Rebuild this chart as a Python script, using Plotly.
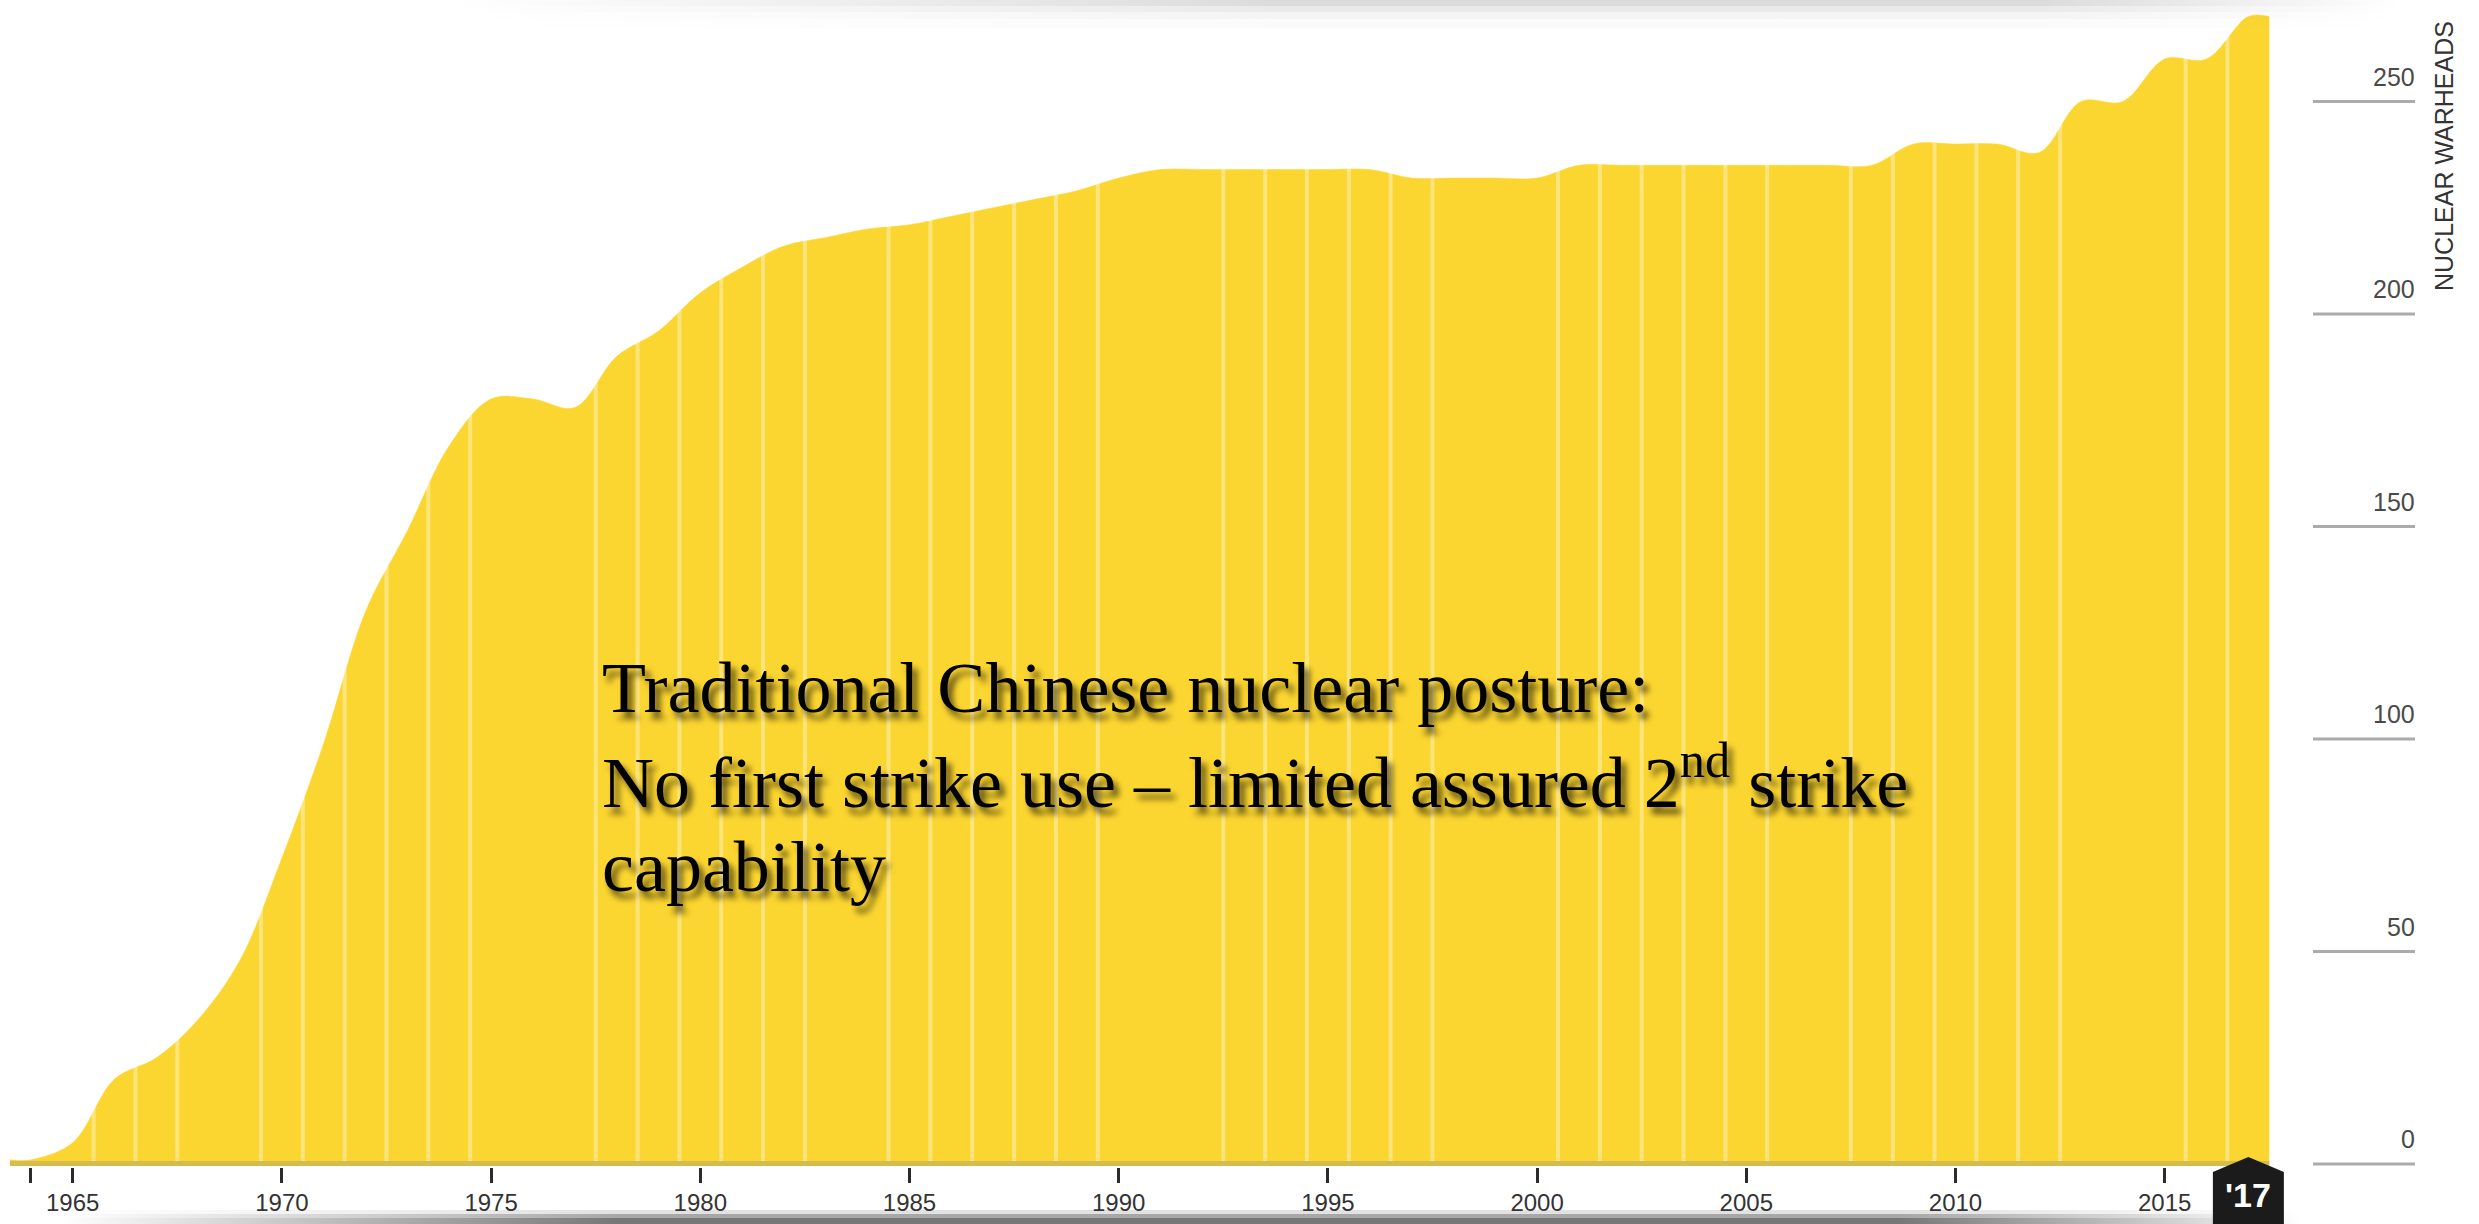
import plotly.graph_objects as go

# Estimated Chinese nuclear warhead stockpile, one value per year
years = list(range(1964, 2018))
warheads = [1, 5, 20, 25, 34, 48, 72, 99, 130, 149,
            169, 180, 180, 178, 190, 196, 205, 211, 216, 218,
            220, 221, 223, 225, 227, 229, 232, 234, 234, 234,
            234, 234, 234, 232, 232, 232, 232, 235, 235, 235,
            235, 235, 235, 235, 235, 240, 240, 240, 238, 250,
            250, 260, 260, 270]

# years whose right-hand boundary carries no divider stripe
no_divider_after = [1964, 1968, 1975, 1976, 1983, 1990, 1991,
                    1998, 1999, 2006, 2013, 2014]

tick_years = [1965, 1970, 1975, 1980, 1985, 1990, 1995,
              2000, 2005, 2010, 2015]
tick_labels = ["1965", "1970", "1975", "1980", "1985", "1990",
               "1995", "2000", "2005", "2010", "2015"]
unlabelled_tick_years = [1964]

scale_values = [0, 50, 100, 150, 200, 250]
scale_labels = ["0", "50", "100", "150", "200", "250"]

scale_title = "NUCLEAR WARHEADS"
current_year_label = "'17"
note_lines = [
    "Traditional Chinese nuclear posture:",
    "No first strike use \u2013 limited assured 2<sup>nd</sup> strike",
    "capability",
]

# ---- page geometry (pixels) ----
W, H = 2479, 1224
PX_PER_YEAR = 41.84
YEAR_AT_LEFT_EDGE = 1965 - 72.7 / PX_PER_YEAR
PLOT_RIGHT = 2271
ZERO_ROW = 1164          # pixel row of value 0
AXIS_ROW = 1166.5        # bottom edge of the plotting area
PX_PER_UNIT = 4.25

YELLOW = "#FCD630"
SANS = "Liberation Sans, Arial, Helvetica, sans-serif"
SERIF = "Liberation Serif, Times New Roman, serif"
TICK_STYLE = dict(ticks="outside", ticklen=15, tickwidth=2.5, tickcolor="#2b2b2b")


def year_at(px):
    return YEAR_AT_LEFT_EDGE + px / PX_PER_YEAR


def value_at(row):
    return (ZERO_ROW - row) / PX_PER_UNIT


fig = go.Figure()

# stockpile area, half a year of padding at either end
area_x = [years[0] - 0.5] + years + [years[-1] + 0.5]
area_y = [warheads[0]] + warheads + [warheads[-1]]
fig.add_trace(go.Scatter(
    x=area_x, y=area_y, mode="lines",
    line=dict(shape="spline", smoothing=1, width=0.5, color=YELLOW),
    fill="tozeroy", fillcolor=YELLOW,
    hoverinfo="skip", showlegend=False,
))

# light divider stripes between years
div_x, div_y = [], []
for i in range(len(years) - 1):
    if years[i] in no_divider_after:
        continue
    b = years[i] + 0.5
    div_x += [b, b, None]
    div_y += [0, max(warheads[i], warheads[i + 1]) + 3, None]
fig.add_trace(go.Scatter(
    x=div_x, y=div_y, mode="lines",
    line=dict(color="rgba(255,255,255,0.37)", width=4),
    hoverinfo="skip", showlegend=False,
))


# soft page shadows along the top and bottom edges
def shade_band(px0, px1, row0, row1, stops):
    x0, x1 = year_at(px0), year_at(px1)
    y0, y1 = value_at(row0), value_at(row1)
    return go.Scatter(
        x=[x0, x1, x1, x0, x0], y=[y0, y0, y1, y1, y0],
        xaxis="x2", yaxis="y2", mode="none", fill="toself",
        fillgradient=dict(type="horizontal", colorscale=stops),
        hoverinfo="skip", showlegend=False,
    )


def top_stops(a):
    c = "rgba(80,80,80,{})"
    return [[0, c.format(0)], [0.42, c.format(a)], [0.82, c.format(a)],
            [1, c.format(0)]]


def bottom_stops(a):
    c = "rgba(60,60,60,{})"
    return [[0, c.format(0)], [0.25, c.format(a)], [0.82, c.format(a)],
            [0.95, c.format(a * 0.3)], [1, c.format(0)]]


for r0, r1, a in [(0, 6, 0.20), (6, 12, 0.12), (12, 19, 0.06), (19, 28, 0.025)]:
    fig.add_trace(shade_band(450, 2400, r0, r1, top_stops(a)))
for r0, r1, a in [(1210, 1214, 0.15), (1214, 1218, 0.45), (1218, 1224, 0.7)]:
    fig.add_trace(shade_band(60, 2300, r0, r1, bottom_stops(a)))

# value scale stubs at the right
stub_x, stub_y = [], []
for v in scale_values:
    stub_x += [year_at(2313), year_at(2415), None]
    stub_y += [v, v, None]
fig.add_trace(go.Scatter(
    x=stub_x, y=stub_y, xaxis="x2", yaxis="y2", mode="lines",
    line=dict(color="#ababab", width=3),
    hoverinfo="skip", showlegend=False,
))

annotations = []
for v, lab in zip(scale_values, scale_labels):
    annotations.append(dict(
        x=year_at(2417), y=v, xref="x2", yref="y2",
        xanchor="right", yanchor="middle", yshift=25,
        text=lab, showarrow=False,
        font=dict(family=SANS, size=25, color="#4a4a4a"),
    ))

annotations.append(dict(
    x=2444 / W, y=1 - 156 / H, xref="paper", yref="paper",
    text=scale_title, textangle=-90, showarrow=False,
    xanchor="center", yanchor="middle",
    font=dict(family=SANS, size=25, color="#333333"),
))

annotations.append(dict(
    x=years[-1], y=1 - 1195 / H, xref="x2", yref="paper",
    text="<b>" + current_year_label + "</b>", showarrow=False,
    xanchor="center", yanchor="middle",
    font=dict(family=SANS, size=34, color="white"),
))

for line, row in zip(note_lines, [688, 777, 867]):
    annotations.append(dict(
        x=600 / W, y=1 - row / H, xref="paper", yref="paper",
        xanchor="left", yanchor="middle", align="left",
        text=line, showarrow=False,
        font=dict(family=SERIF, size=72, color="black",
                  shadow="5px 7px 6px rgba(0,0,0,0.65)"),
    ))

shapes = [
    # darker rule along the base of the area
    dict(type="rect", xref="x", yref="y", layer="above",
         x0=years[0] - 0.5, x1=years[-1] + 0.5,
         ysizemode="pixel", yanchor=0, y0=-2, y1=3,
         fillcolor="#D5BC4E", line=dict(width=0)),
    # current-year tag
    dict(type="path", xref="x2", yref="y2", layer="above",
         xsizemode="pixel", xanchor=years[-1],
         ysizemode="pixel", yanchor=0,
         path="M -35.5,-75 L -35.5,-8 L 0,7 L 35.5,-8 L 35.5,-75 Z",
         fillcolor="#1b1b1b", line=dict(width=0)),
]

y_bottom = -(AXIS_ROW - ZERO_ROW) / PX_PER_UNIT
fig.update_layout(
    width=W, height=H,
    margin=dict(l=0, r=0, t=0, b=0),
    paper_bgcolor="white", plot_bgcolor="rgba(0,0,0,0)",
    template="none", showlegend=False,
    xaxis=dict(
        domain=[0, PLOT_RIGHT / W],
        range=[YEAR_AT_LEFT_EDGE, year_at(PLOT_RIGHT)],
        tickmode="array", tickvals=tick_years, ticktext=tick_labels,
        tickfont=dict(family=SANS, size=24, color="#333333"),
        minor=dict(tickmode="array", tickvals=unlabelled_tick_years,
                   showgrid=False, **TICK_STYLE),
        showgrid=False, zeroline=False, showline=False, fixedrange=True,
        anchor="y", **TICK_STYLE,
    ),
    yaxis=dict(
        domain=[(H - AXIS_ROW) / H, 1],
        range=[y_bottom, value_at(0)],
        visible=False, showgrid=False, zeroline=False, fixedrange=True,
        anchor="x",
    ),
    xaxis2=dict(
        domain=[0, 1], range=[YEAR_AT_LEFT_EDGE, year_at(W)],
        visible=False, showgrid=False, zeroline=False, fixedrange=True,
        anchor="y2",
    ),
    yaxis2=dict(
        domain=[0, 1], range=[value_at(H), value_at(0)],
        visible=False, showgrid=False, zeroline=False, fixedrange=True,
        anchor="x2",
    ),
    annotations=annotations,
    shapes=shapes,
)

fig.write_html("out.html", config={"displayModeBar": False})
